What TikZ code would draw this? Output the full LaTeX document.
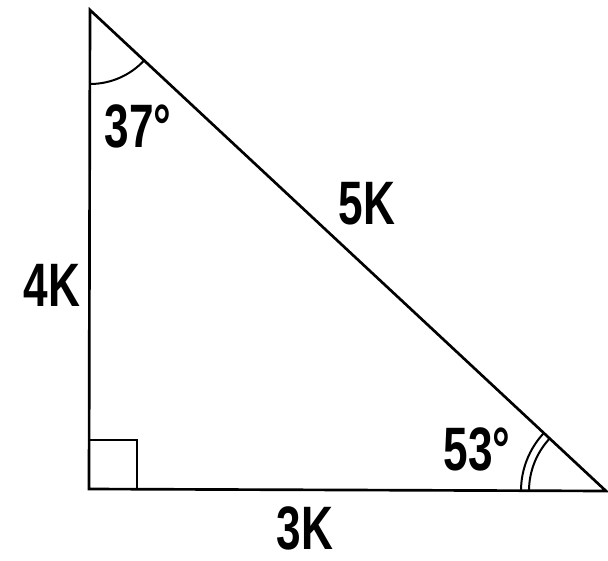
\documentclass[tikz,border=0pt]{standalone}
\usepackage{fontspec}
\setmainfont{Liberation Sans}
\usetikzlibrary{calc}

\begin{document}
\begin{tikzpicture}[
    x=0.75pt, y=-0.75pt,          % pixel-like units, y downwards
    side/.style={line width=2pt},
    anglemark/.style={line width=1.5pt},
    lbl/.style={font=\bfseries\fontsize{46}{46}\selectfont, inner sep=0pt, xscale=0.72}
  ]
  \useasboundingbox (0,0) rectangle (608,561);

  % vertices
  \coordinate (A) at (90,10);    % top
  \coordinate (B) at (89,489);   % right angle
  \coordinate (C) at (606,491);  % bottom right

  % sides
  \draw[side] (A) -- (B) -- (C) -- cycle;

  % right angle box
  \draw[anglemark] ($(B)+(0,-49)$) -- ($(B)+(48,-49)$) -- ($(B)+(48,0)$);

  % angle marks
  \draw[anglemark] ($(A)+(90:74)$) arc[start angle=90, end angle=43, radius=74];
  \draw[anglemark] ($(C)+(180:85)$) arc[start angle=180, end angle=223, radius=85];
  \draw[anglemark] ($(C)+(180:77)$) arc[start angle=180, end angle=223, radius=77];

  % labels
  \node[lbl] (a37) at (138,126) {37°};
  \node[lbl] (hyp) at (367,204) {5K};
  \node[lbl] (leg4) at (52,285) {4K};
  \node[lbl] (leg3) at (305,528) {3K};
  \node[lbl] (a53) at (477,449) {53°};
\end{tikzpicture}
\end{document}
